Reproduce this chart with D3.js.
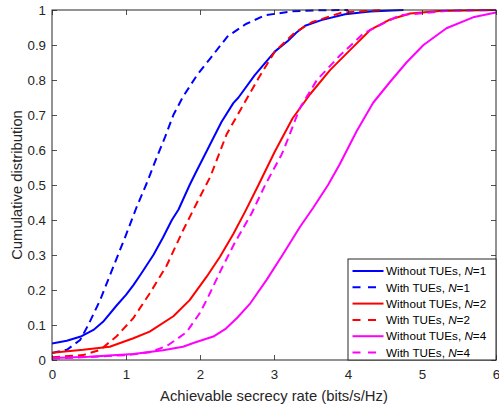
<!DOCTYPE html>
<html><head><meta charset="utf-8">
<script src="https://cdn.jsdelivr.net/npm/d3@7"></script>
<style>
html,body{margin:0;padding:0;background:#fff;}
svg{display:block;font-family:"Liberation Sans",Arial,Helvetica,sans-serif;}
</style></head>
<body>
<svg id="chart" width="499" height="410"></svg>
<script>
// ---- data ----
const xTicks = [0, 1, 2, 3, 4, 5, 6];
const yTicks = [0, 0.1, 0.2, 0.3, 0.4, 0.5, 0.6, 0.7, 0.8, 0.9, 1];
const yTickLabels = ["0","0.1","0.2","0.3","0.4","0.5","0.6","0.7","0.8","0.9","1"];

const withoutN1 = [[0,0.047],[0.2,0.055],[0.4,0.068],[0.56,0.086],[0.69,0.109],[0.87,0.155],[1.0,0.186],[1.1,0.214],[1.2,0.245],[1.37,0.3],[1.5,0.35],[1.62,0.4],[1.71,0.43],[1.86,0.5],[1.93,0.53],[2.11,0.605],[2.29,0.68],[2.45,0.734],[2.52,0.75],[2.74,0.814],[3.01,0.881],[3.19,0.912],[3.3,0.935],[3.42,0.955],[3.64,0.971],[3.96,0.988],[4.3,0.996],[4.75,1.0]];
const withN1 = [[0,0.02],[0.2,0.029],[0.38,0.057],[0.49,0.1],[0.65,0.171],[0.83,0.267],[0.99,0.352],[1.14,0.435],[1.28,0.505],[1.41,0.576],[1.53,0.638],[1.64,0.70],[1.77,0.752],[1.96,0.814],[2.14,0.862],[2.37,0.924],[2.62,0.96],[2.88,0.985],[3.24,0.996],[3.6,0.999],[4.0,1.0]];
const withoutN2 = [[0,0.021],[0.42,0.029],[0.78,0.038],[1.1,0.062],[1.32,0.081],[1.64,0.125],[1.86,0.171],[2.09,0.238],[2.27,0.295],[2.45,0.36],[2.61,0.424],[2.79,0.5],[3.01,0.595],[3.25,0.69],[3.49,0.76],[3.76,0.829],[4.03,0.886],[4.3,0.943],[4.57,0.973],[4.84,0.99],[5.24,0.997],[6,1]];
const withN2 = [[0,0.008],[0.42,0.014],[0.65,0.029],[0.87,0.067],[1.1,0.12],[1.32,0.19],[1.55,0.27],[1.77,0.37],[1.96,0.45],[2.14,0.524],[2.36,0.645],[2.55,0.716],[2.79,0.805],[3.01,0.881],[3.28,0.935],[3.51,0.965],[3.92,0.993],[4.5,1.0]];
const withoutN4 = [[0,0.006],[0.5,0.009],[1.1,0.017],[1.5,0.028],[1.77,0.038],[1.93,0.05],[2.18,0.067],[2.34,0.088],[2.5,0.12],[2.68,0.162],[2.9,0.229],[3.13,0.305],[3.35,0.38],[3.53,0.435],[3.73,0.5],[3.89,0.56],[4.12,0.655],[4.34,0.735],[4.57,0.795],[4.79,0.85],[5.02,0.9],[5.33,0.948],[5.69,0.979],[6,0.993]];
const withN4 = [[0,0.004],[0.65,0.01],[1.0,0.014],[1.32,0.022],[1.55,0.04],[1.69,0.06],[1.82,0.08],[2.0,0.135],[2.11,0.18],[2.29,0.26],[2.47,0.335],[2.7,0.42],[2.88,0.5],[3.1,0.586],[3.13,0.6],[3.35,0.72],[3.58,0.8],[3.89,0.87],[4.21,0.933],[4.48,0.962],[4.7,0.985],[5.38,0.998],[6,1]];

const seriesNames = ["Without TUEs, ", "With TUEs, ", "Without TUEs, ", "With TUEs, ", "Without TUEs, ", "With TUEs, "];
const seriesN = ["1","1","2","2","4","4"];
const seriesData = [withoutN1, withN1, withoutN2, withN2, withoutN4, withN4];
const seriesColors = ["#0000ff","#0000ff","#ff0000","#ff0000","#ff00ff","#ff00ff"];
const seriesDashed = [false, true, false, true, false, true];

// ---- layout ----
const L = 52, R = 496, T = 10, B = 360;
const svg = d3.select("#chart");
const x = d3.scaleLinear().domain([0, 6]).range([L, R]);
const y = d3.scaleLinear().domain([0, 1]).range([B, T]);
const axisColor = "#262626";
const FONT = '"Liberation Sans",Arial,Helvetica,sans-serif';

// clip
svg.append("defs").append("clipPath").attr("id","clip")
  .append("rect").attr("x", L).attr("y", T - 1).attr("width", R - L).attr("height", B - T + 1);

// curves
const line = d3.line().x(d => x(d[0])).y(d => y(d[1]));
const g = svg.append("g").attr("clip-path","url(#clip)");
seriesData.forEach((d, i) => {
  g.append("path").datum(d)
    .attr("d", line)
    .attr("fill","none")
    .attr("stroke", seriesColors[i])
    .attr("stroke-width", 2)
    .attr("stroke-linejoin","round")
    .attr("stroke-dasharray", seriesDashed[i] ? "8,5" : null);
});

// axes
function styleAxis(sel) {
  sel.select(".domain").remove();
  sel.selectAll(".tick line").attr("stroke", axisColor).attr("stroke-width", 0.8);
  sel.selectAll(".tick text").attr("fill", axisColor).style("font-size","13.3px")
     .style("font-family", FONT);
}
svg.append("g").attr("transform", `translate(0,${B})`)
  .call(d3.axisBottom(x).tickValues(xTicks).tickSize(-5).tickPadding(9.5).tickFormat(d3.format("d")))
  .call(styleAxis);
svg.append("g").attr("transform", `translate(0,${T})`)
  .call(d3.axisTop(x).tickValues(xTicks).tickSize(-5).tickFormat(""))
  .call(styleAxis);
svg.append("g").attr("transform", `translate(${L},0)`)
  .call(d3.axisLeft(y).tickValues(yTicks).tickSize(-5).tickPadding(6).tickFormat((d, i) => yTickLabels[i]))
  .call(styleAxis);
svg.append("g").attr("transform", `translate(${R},0)`)
  .call(d3.axisRight(y).tickValues(yTicks).tickSize(-5).tickFormat(""))
  .call(styleAxis);

// box
svg.append("rect").attr("x", L).attr("y", T).attr("width", R - L).attr("height", B - T)
  .attr("fill","none").attr("stroke", axisColor).attr("stroke-width", 1);

// axis labels
svg.append("text").attr("x", (L + R) / 2).attr("y", 400.5)
  .attr("text-anchor","middle").attr("fill", axisColor).style("font-size","14.8px")
  .text("Achievable secrecy rate (bits/s/Hz)");
svg.append("text").attr("transform", `translate(22,${(T + B) / 2}) rotate(-90)`)
  .attr("text-anchor","middle").attr("fill", axisColor).style("font-size","14.8px")
  .text("Cumulative distribution");

// legend
const lgX = 348, lgY = 259, lgW = R - lgX, lgH = B - lgY;
const lg = svg.append("g");
lg.append("rect").attr("x", lgX).attr("y", lgY).attr("width", lgW).attr("height", lgH)
  .attr("fill","#fff").attr("stroke", axisColor).attr("stroke-width", 1);
seriesData.forEach((d, i) => {
  const cy = lgY + 12 + i * 16.3;
  lg.append("line").attr("x1", 352.5).attr("x2", 383.5).attr("y1", cy).attr("y2", cy)
    .attr("stroke", seriesColors[i]).attr("stroke-width", 2)
    .attr("stroke-dasharray", seriesDashed[i] ? "8,7.5" : null);
  const t = lg.append("text").attr("x", 386).attr("y", cy + 4.2)
    .attr("fill", "#000").style("font-size","11.7px");
  t.append("tspan").text(seriesNames[i]);
  t.append("tspan").style("font-style","italic").text("N");
  t.append("tspan").text("=" + seriesN[i]);
});
</script>
</body></html>
